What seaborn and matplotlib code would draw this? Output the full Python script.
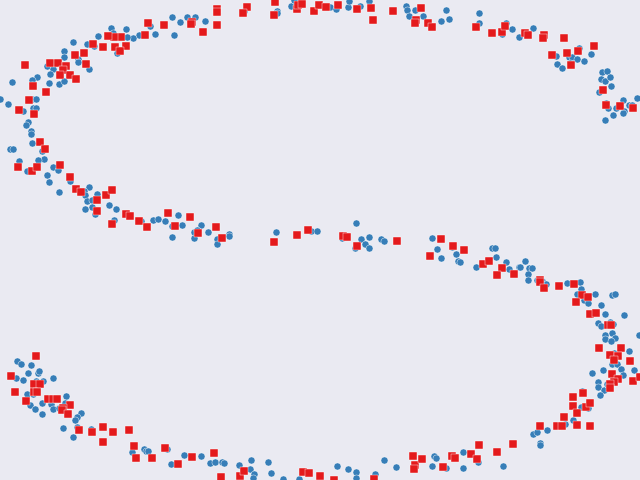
import pandas as pd
import seaborn as sns
import matplotlib as mpl
import matplotlib.pyplot as plt

mpl.use('Agg')

# blue circles (x, y, y grows downward)
blue_x = [150, 155, 139, 133, 127, 126, 111, 113, 98, 87, 94, 73, 117, 64, 64, 78, 78, 89, 47, 53,
          50, 37, 32, 32, 49, 59, 64, 12, 0, 8, 32, 36, 23, 33, 36, 28, 26, 31, 31, 32,
          10, 13, 42, 44, 19, 38,
          172, 180, 187, 195, 205, 174, 244, 277, 277, 291, 294,
          330, 336, 348, 349, 360, 369, 406, 407, 415, 409, 423, 446, 441, 449, 479, 479,
          506, 502, 512, 519, 533, 556, 557, 562, 569, 572, 579, 577, 584, 591, 570, 602, 607, 601,
          605, 610, 611, 599, 606, 608, 616, 623, 637, 629, 632, 624, 623, 613, 605,
          27, 53, 58, 47, 49, 70, 59, 89, 84, 85, 97, 87, 92, 92, 85, 95, 109, 116, 114, 141, 153, 158,
          165, 178, 172, 182, 172, 201, 194, 197, 194, 208, 217, 217, 229, 229, 276, 311, 317,
          356, 342, 361, 369, 365, 355, 369, 381, 384, 432, 437, 441, 452, 456, 458, 460, 476,
          492, 495, 496, 506, 509, 519, 520, 525, 529, 532, 528, 528, 537, 542, 546, 567, 580, 581,
          577, 595, 584, 588, 601, 612, 615, 605, 624,
          17, 21, 31, 28, 38, 39, 16, 23, 36, 43, 53, 27, 33, 30, 35, 42, 51, 53, 42, 66, 65, 59,
          81, 77, 75, 63, 77, 73, 91, 132, 144, 146, 148,
          167, 171, 184, 201, 210, 215, 222, 224, 239, 251, 250, 254, 253, 268, 271, 283, 299,
          337, 348, 356, 356, 375, 384, 396, 432, 434, 436, 446, 463, 463, 478,
          503, 533, 537, 540, 540, 547, 565, 573, 581, 588, 582, 592, 598, 598, 604, 600, 607, 603,
          598, 601, 613, 610, 612, 605, 605, 615, 611, 639, 629, 614, 612, 617, 621, 623, 634]
blue_y = [26, 34, 35, 38, 37, 29, 28, 33, 36, 44, 46, 42, 53, 51, 57, 59, 62, 69, 66, 69,
          74, 77, 80, 85, 83, 84, 81, 82, 99, 104, 99, 99, 111, 108, 108, 122, 125, 131, 134, 143,
          149, 149, 151, 159, 161, 160,
          17, 22, 17, 17, 21, 35, 11, 11, 13, 6, 0,
          7, 9, 7, 1, 6, 1, 6, 10, 10, 16, 16, 10, 21, 19, 13, 23,
          23, 34, 29, 37, 28, 56, 64, 68, 57, 57, 48, 59, 61, 54, 63, 72, 71, 79,
          81, 77, 86, 92, 103, 108, 108, 100, 98, 105, 105, 111, 113, 115, 120,
          171, 167, 170, 175, 182, 181, 192, 187, 191, 195, 194, 201, 200, 207, 209, 214, 205, 209, 220, 221, 220, 219,
          221, 215, 226, 225, 237, 225, 232, 230, 238, 232, 239, 244, 234, 236, 232, 231, 231,
          223, 238, 239, 237, 244, 248, 248, 239, 241, 238, 249, 258, 247, 254, 261, 262, 267,
          248, 248, 257, 262, 269, 267, 267, 261, 268, 268, 274, 280, 280, 281, 284, 283, 282, 289,
          294, 294, 300, 303, 305, 295, 294, 314, 315,
          361, 364, 365, 373, 373, 371, 378, 380, 381, 381, 378, 394, 394, 405, 409, 403, 404, 409, 414, 396, 403, 408,
          413, 417, 420, 428, 427, 437, 429, 452, 449, 451, 451,
          449, 464, 455, 456, 463, 462, 462, 463, 465, 460, 469, 474, 478, 462, 473, 479, 479,
          466, 469, 472, 478, 474, 460, 467, 466, 456, 458, 468, 452, 468, 462,
          466, 434, 432, 443, 445, 430, 424, 420, 407, 408, 391, 373, 382, 387, 390, 395, 384, 370,
          323, 326, 324, 322, 333, 335, 339, 338, 341, 335, 351, 353, 364, 364, 369, 375, 370]

# red squares
red_x = [148, 145, 121, 114, 108, 93, 103, 115, 126, 120, 84, 75, 86, 50, 58, 66, 63, 60, 70, 76,
         25, 33, 46, 29, 19, 34, 40, 45,
         164, 217, 217, 217, 203, 192, 191, 247, 243, 275, 274, 297, 298, 302, 314, 319,
         326, 338, 357, 371, 373, 393, 421, 416, 415, 428, 432, 476,
         492, 502, 505, 525, 528, 544, 543, 564, 552, 567, 578, 594, 571, 603, 606, 620, 633,
         18, 32, 37, 60, 70, 76, 81, 97, 106, 112, 97, 112, 126, 130, 139, 147,
         168, 190, 175, 198, 216, 222, 274, 297, 308,
         343, 347, 357, 397, 441, 453, 430, 464,
         483, 489, 502, 497, 514, 540, 540, 544, 559, 574, 582, 588, 576, 590, 596,
         36, 11, 34, 40, 15, 34, 37, 26, 48, 53, 57, 70, 63, 62, 68, 79, 92, 103, 113, 129,
         103, 134, 136, 152,
         165, 178, 192, 214, 221, 240, 244, 303, 309, 320,
         334, 374, 413, 415, 414, 422, 443, 452, 455, 471, 477, 479,
         497, 513, 540, 557, 562, 564, 577, 590, 573, 573, 577, 583, 586, 590, 599, 608, 611,
         610, 621, 618, 614, 630, 612, 618, 614, 610, 610, 633, 640]
red_y = [23, 35, 37, 37, 36, 44, 47, 47, 46, 51, 53, 55, 64, 63, 63, 66, 70, 75, 75, 79,
         65, 86, 92, 100, 110, 114, 142, 149,
         25, 9, 12, 25, 32, 22, 24, 7, 13, 2, 15, 9, 5, 4, 11, 5,
         7, 5, 9, 8, 20, 11, 8, 20, 23, 23, 27, 27,
         33, 32, 26, 33, 35, 35, 38, 38, 55, 53, 51, 46, 65, 90, 105, 106, 108,
         167, 171, 167, 165, 177, 189, 192, 200, 195, 190, 211, 224, 214, 216, 221, 227,
         213, 217, 226, 233, 227, 238, 242, 235, 230,
         236, 237, 246, 241, 239, 246, 256, 250,
         264, 261, 268, 275, 274, 280, 282, 288, 286, 284, 295, 297, 302, 314, 313,
         356, 376, 384, 384, 392, 392, 392, 401, 399, 399, 399, 405, 408, 410, 414, 430, 432, 427, 432, 430,
         442, 446, 458, 458,
         448, 464, 457, 453, 477, 476, 471, 472, 473, 476,
         480, 479, 456, 465, 469, 459, 467, 456, 458, 454, 459, 445,
         452, 444, 426, 426, 426, 417, 425, 426, 397, 406, 413, 393, 407, 403, 348, 325, 325,
         355, 348, 356, 360, 361, 374, 379, 382, 384, 388, 381, 377]

blue = pd.DataFrame({'x': blue_x, 'y': blue_y})
red = pd.DataFrame({'x': red_x, 'y': red_y})

sns.set_theme(style='dark')
fig = plt.figure(figsize=(6.4, 4.8), dpi=100)
ax = fig.add_axes([0, 0, 1, 1])
sns.scatterplot(data=blue, x='x', y='y', color='#377eb8', marker='o', s=26,
                edgecolor='white', linewidth=0.3, ax=ax)
sns.scatterplot(data=red, x='x', y='y', color='#e41a1c', marker='s', s=26,
                edgecolor='white', linewidth=0.3, ax=ax)
ax.set_xlim(0, 640)
ax.set_ylim(480, 0)
ax.set_xticks([])
ax.set_yticks([])
ax.set_xlabel('')
ax.set_ylabel('')
for sp in ax.spines.values():
    sp.set_visible(False)
ax.set_facecolor('#eaeaf2')
fig.savefig('out.png', dpi=100)
